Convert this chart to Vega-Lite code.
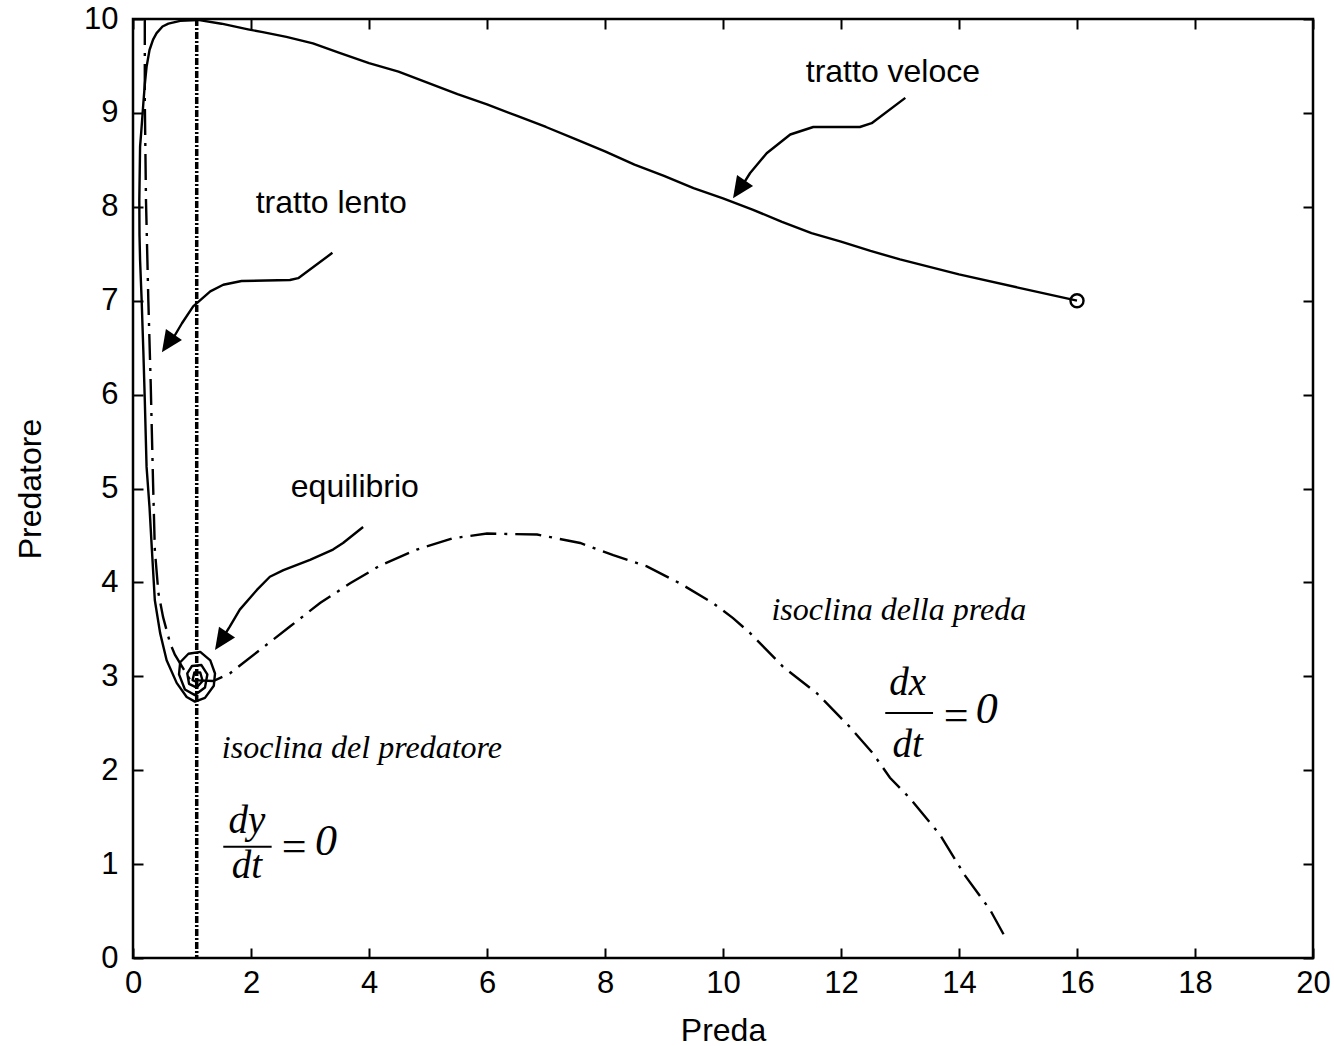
{
  "$schema": "https://vega.github.io/schema/vega-lite/v6.json",
  "width": 1180,
  "height": 939,
  "autosize": {"type": "none"},
  "padding": {"left": 133, "top": 19, "right": 21, "bottom": 88},
  "background": "white",
  "config": {
    "view": {"stroke": "black", "strokeWidth": 2.5},
    "axis": {
      "grid": false,
      "domain": false,
      "ticks": true,
      "tickColor": "black",
      "tickWidth": 2,
      "tickSize": -10,
      "labelFont": "Liberation Sans",
      "labelFontSize": 31,
      "labelColor": "black",
      "titleFont": "Liberation Sans",
      "titleFontSize": 32,
      "titleFontWeight": "normal",
      "titleColor": "black"
    }
  },
  "datasets": {
    "trajectory": [
      {"t": 0, "preda": 16.0, "predatore": 7.0},
      {"t": 1, "preda": 15.0, "predatore": 7.14},
      {"t": 2, "preda": 14.0, "predatore": 7.28},
      {"t": 3, "preda": 13.0, "predatore": 7.44},
      {"t": 4, "preda": 12.5, "predatore": 7.53},
      {"t": 5, "preda": 12.0, "predatore": 7.63},
      {"t": 6, "preda": 11.5, "predatore": 7.72},
      {"t": 7, "preda": 11.0, "predatore": 7.84},
      {"t": 8, "preda": 10.5, "predatore": 7.97},
      {"t": 9, "preda": 10.0, "predatore": 8.09},
      {"t": 10, "preda": 9.5, "predatore": 8.2},
      {"t": 11, "preda": 9.0, "predatore": 8.33},
      {"t": 12, "preda": 8.5, "predatore": 8.45},
      {"t": 13, "preda": 8.0, "predatore": 8.59},
      {"t": 14, "preda": 7.5, "predatore": 8.72},
      {"t": 15, "preda": 7.0, "predatore": 8.85},
      {"t": 16, "preda": 6.5, "predatore": 8.97},
      {"t": 17, "preda": 6.0, "predatore": 9.09},
      {"t": 18, "preda": 5.5, "predatore": 9.2},
      {"t": 19, "preda": 5.0, "predatore": 9.32},
      {"t": 20, "preda": 4.5, "predatore": 9.44},
      {"t": 21, "preda": 4.0, "predatore": 9.53},
      {"t": 22, "preda": 3.5, "predatore": 9.64},
      {"t": 23, "preda": 3.05, "predatore": 9.74},
      {"t": 24, "preda": 2.6, "predatore": 9.81},
      {"t": 25, "preda": 2.2, "predatore": 9.86},
      {"t": 26, "preda": 1.95, "predatore": 9.89},
      {"t": 27, "preda": 1.5, "predatore": 9.95},
      {"t": 28, "preda": 1.1, "predatore": 9.99},
      {"t": 29, "preda": 0.8, "predatore": 9.98},
      {"t": 30, "preda": 0.6, "predatore": 9.95},
      {"t": 31, "preda": 0.5, "predatore": 9.92},
      {"t": 32, "preda": 0.4, "predatore": 9.85},
      {"t": 33, "preda": 0.34, "predatore": 9.78},
      {"t": 34, "preda": 0.28, "predatore": 9.67},
      {"t": 35, "preda": 0.23, "predatore": 9.49},
      {"t": 36, "preda": 0.2, "predatore": 9.3},
      {"t": 37, "preda": 0.175, "predatore": 9.1},
      {"t": 38, "preda": 0.14, "predatore": 8.8},
      {"t": 39, "preda": 0.12, "predatore": 8.64},
      {"t": 40, "preda": 0.107, "predatore": 8.07},
      {"t": 41, "preda": 0.11, "predatore": 7.7},
      {"t": 42, "preda": 0.12, "predatore": 7.43},
      {"t": 43, "preda": 0.147, "predatore": 7.0},
      {"t": 44, "preda": 0.175, "predatore": 6.47},
      {"t": 45, "preda": 0.2, "predatore": 5.94},
      {"t": 46, "preda": 0.23, "predatore": 5.23},
      {"t": 47, "preda": 0.28, "predatore": 4.8},
      {"t": 48, "preda": 0.32, "predatore": 4.35},
      {"t": 49, "preda": 0.37, "predatore": 3.81},
      {"t": 50, "preda": 0.46, "predatore": 3.46},
      {"t": 51, "preda": 0.57, "predatore": 3.17},
      {"t": 52, "preda": 0.74, "predatore": 2.93},
      {"t": 53, "preda": 0.91, "predatore": 2.78},
      {"t": 54, "preda": 1.05, "predatore": 2.73},
      {"t": 55, "preda": 1.22, "predatore": 2.77},
      {"t": 56, "preda": 1.37, "predatore": 2.9},
      {"t": 57, "preda": 1.39, "predatore": 3.03},
      {"t": 58, "preda": 1.31, "predatore": 3.17},
      {"t": 59, "preda": 1.14, "predatore": 3.26},
      {"t": 60, "preda": 0.94, "predatore": 3.24},
      {"t": 61, "preda": 0.8, "predatore": 3.15},
      {"t": 62, "preda": 0.78, "predatore": 3.02},
      {"t": 63, "preda": 0.88, "predatore": 2.86},
      {"t": 64, "preda": 1.05, "predatore": 2.8},
      {"t": 65, "preda": 1.22, "predatore": 2.88},
      {"t": 66, "preda": 1.26, "predatore": 3.02},
      {"t": 67, "preda": 1.16, "predatore": 3.12},
      {"t": 68, "preda": 1.0, "predatore": 3.11},
      {"t": 69, "preda": 0.92, "predatore": 3.03},
      {"t": 70, "preda": 0.95, "predatore": 2.92},
      {"t": 71, "preda": 1.08, "predatore": 2.88},
      {"t": 72, "preda": 1.18, "predatore": 2.95},
      {"t": 73, "preda": 1.14, "predatore": 3.04},
      {"t": 74, "preda": 1.04, "predatore": 3.04},
      {"t": 75, "preda": 1.01, "predatore": 2.96},
      {"t": 76, "preda": 1.08, "predatore": 2.94},
      {"t": 77, "preda": 1.1, "predatore": 2.97}
    ],
    "start": [{"preda": 16.0, "predatore": 7.0}],
    "preyIsocline": [
      {"k": 0, "preda": 0.2, "predatore": 10.0},
      {"k": 1, "preda": 0.2, "predatore": 9.14},
      {"k": 2, "preda": 0.22, "predatore": 8.07},
      {"k": 3, "preda": 0.26, "predatore": 7.0},
      {"k": 4, "preda": 0.3, "predatore": 6.12},
      {"k": 5, "preda": 0.34, "predatore": 5.06},
      {"k": 6, "preda": 0.37, "predatore": 4.35},
      {"k": 7, "preda": 0.43, "predatore": 3.89},
      {"k": 8, "preda": 0.51, "predatore": 3.63},
      {"k": 9, "preda": 0.63, "predatore": 3.35},
      {"k": 10, "preda": 0.71, "predatore": 3.23},
      {"k": 11, "preda": 0.97, "predatore": 2.96},
      {"k": 12, "preda": 1.36, "predatore": 2.95},
      {"k": 13, "preda": 1.64, "predatore": 3.03},
      {"k": 14, "preda": 2.15, "predatore": 3.28},
      {"k": 15, "preda": 2.66, "predatore": 3.53},
      {"k": 16, "preda": 3.17, "predatore": 3.78},
      {"k": 17, "preda": 3.68, "predatore": 3.99},
      {"k": 18, "preda": 4.19, "predatore": 4.18},
      {"k": 19, "preda": 4.81, "predatore": 4.35},
      {"k": 20, "preda": 5.42, "predatore": 4.47},
      {"k": 21, "preda": 6.0, "predatore": 4.52},
      {"k": 22, "preda": 6.85, "predatore": 4.51},
      {"k": 23, "preda": 7.58, "predatore": 4.42},
      {"k": 24, "preda": 8.14, "predatore": 4.29},
      {"k": 25, "preda": 8.71, "predatore": 4.17},
      {"k": 26, "preda": 9.27, "predatore": 3.99},
      {"k": 27, "preda": 9.83, "predatore": 3.78},
      {"k": 28, "preda": 10.17, "predatore": 3.62},
      {"k": 29, "preda": 10.46, "predatore": 3.46},
      {"k": 30, "preda": 11.02, "predatore": 3.1},
      {"k": 31, "preda": 11.59, "predatore": 2.82},
      {"k": 32, "preda": 12.15, "predatore": 2.46},
      {"k": 33, "preda": 12.54, "predatore": 2.18},
      {"k": 34, "preda": 12.83, "predatore": 1.92},
      {"k": 35, "preda": 13.17, "predatore": 1.7},
      {"k": 36, "preda": 13.68, "predatore": 1.31},
      {"k": 37, "preda": 14.1, "predatore": 0.88},
      {"k": 38, "preda": 14.53, "predatore": 0.51},
      {"k": 39, "preda": 14.81, "predatore": 0.19}
    ],
    "predatorIsocline": [{"preda": 1.08}],
    "arrows": [
      {"arrow": "veloce", "k": 0, "preda": 13.09, "predatore": 9.16},
      {"arrow": "veloce", "k": 1, "preda": 12.52, "predatore": 8.89},
      {"arrow": "veloce", "k": 2, "preda": 12.32, "predatore": 8.85},
      {"arrow": "veloce", "k": 3, "preda": 11.53, "predatore": 8.85},
      {"arrow": "veloce", "k": 4, "preda": 11.14, "predatore": 8.77},
      {"arrow": "veloce", "k": 5, "preda": 10.74, "predatore": 8.57},
      {"arrow": "veloce", "k": 6, "preda": 10.46, "predatore": 8.36},
      {"arrow": "veloce", "k": 7, "preda": 10.32, "predatore": 8.22},
      {"arrow": "lento", "k": 0, "preda": 3.38, "predatore": 7.51},
      {"arrow": "lento", "k": 1, "preda": 2.8, "predatore": 7.24},
      {"arrow": "lento", "k": 2, "preda": 2.66, "predatore": 7.22},
      {"arrow": "lento", "k": 3, "preda": 1.84, "predatore": 7.21},
      {"arrow": "lento", "k": 4, "preda": 1.53, "predatore": 7.17},
      {"arrow": "lento", "k": 5, "preda": 1.31, "predatore": 7.1},
      {"arrow": "lento", "k": 6, "preda": 1.02, "predatore": 6.94},
      {"arrow": "lento", "k": 7, "preda": 0.83, "predatore": 6.76},
      {"arrow": "lento", "k": 8, "preda": 0.68, "predatore": 6.6},
      {"arrow": "equilibrio", "k": 0, "preda": 3.9, "predatore": 4.59},
      {"arrow": "equilibrio", "k": 1, "preda": 3.56, "predatore": 4.42},
      {"arrow": "equilibrio", "k": 2, "preda": 3.39, "predatore": 4.35},
      {"arrow": "equilibrio", "k": 3, "preda": 3.0, "predatore": 4.24},
      {"arrow": "equilibrio", "k": 4, "preda": 2.55, "predatore": 4.13},
      {"arrow": "equilibrio", "k": 5, "preda": 2.32, "predatore": 4.06},
      {"arrow": "equilibrio", "k": 6, "preda": 2.1, "predatore": 3.92},
      {"arrow": "equilibrio", "k": 7, "preda": 1.81, "predatore": 3.71},
      {"arrow": "equilibrio", "k": 8, "preda": 1.64, "predatore": 3.53},
      {"arrow": "equilibrio", "k": 9, "preda": 1.56, "predatore": 3.45}
    ],
    "arrowTips": [
      {"arrow": "veloce", "preda": 10.17, "predatore": 8.09},
      {"arrow": "lento", "preda": 0.49, "predatore": 6.45},
      {"arrow": "equilibrio", "preda": 1.39, "predatore": 3.28}
    ],
    "notes": [
      {"label": "tratto veloce", "preda": 12.88, "predatore": 9.33},
      {"label": "tratto lento", "preda": 3.36, "predatore": 7.93},
      {"label": "equilibrio", "preda": 3.76, "predatore": 4.91}
    ],
    "isoNotes": [
      {"label": "isoclina della  preda", "preda": 12.98, "predatore": 3.6},
      {"label": "isoclina del  predatore", "preda": 3.88, "predatore": 2.13}
    ],
    "fracTerms": [
      {"label": "dx", "preda": 13.13, "predatore": 2.8},
      {"label": "dt", "preda": 13.13, "predatore": 2.14},
      {"label": "dy", "preda": 1.93, "predatore": 1.33},
      {"label": "dt", "preda": 1.93, "predatore": 0.85}
    ],
    "fracBars": [
      {"preda": 12.75, "preda2": 13.56, "predatore": 2.61},
      {"preda": 1.53, "preda2": 2.35, "predatore": 1.185}
    ],
    "equals": [
      {"preda": 13.95, "predatore": 2.57},
      {"preda": 2.73, "predatore": 1.17}
    ],
    "zeros": [
      {"preda": 14.47, "predatore": 2.5},
      {"preda": 3.27, "predatore": 1.1}
    ]
  },
  "layer": [
    {
      "data": {"name": "trajectory"},
      "mark": {"type": "line", "color": "black", "strokeWidth": 2.4, "strokeJoin": "round"},
      "encoding": {
        "x": {
          "field": "preda", "type": "quantitative",
          "scale": {"domain": [0, 20], "nice": false, "zero": false},
          "axis": {"orient": "bottom", "values": [0, 2, 4, 6, 8, 10, 12, 14, 16, 18, 20], "title": "Preda", "labelPadding": 20, "titlePadding": 17, "labelFlush": false}
        },
        "y": {
          "field": "predatore", "type": "quantitative",
          "scale": {"domain": [0, 10], "nice": false, "zero": false},
          "axis": {"orient": "left", "values": [0, 1, 2, 3, 4, 5, 6, 7, 8, 9, 10], "title": "Predatore", "labelPadding": 25, "titlePadding": 36, "labelFlush": false}
        },
        "order": {"field": "t", "type": "quantitative"}
      }
    },
    {
      "data": {"name": "preyIsocline"},
      "mark": {"type": "line", "color": "black", "strokeWidth": 2.4, "strokeDash": [26, 8, 3, 8]},
      "encoding": {
        "x": {
          "field": "preda", "type": "quantitative",
          "axis": {"orient": "top", "values": [0, 2, 4, 6, 8, 10, 12, 14, 16, 18, 20], "labels": false, "title": null}
        },
        "y": {
          "field": "predatore", "type": "quantitative",
          "axis": {"orient": "right", "values": [0, 1, 2, 3, 4, 5, 6, 7, 8, 9, 10], "labels": false, "title": null}
        },
        "order": {"field": "k", "type": "quantitative"}
      }
    },
    {
      "data": {"name": "predatorIsocline"},
      "mark": {"type": "rule", "color": "black", "strokeWidth": 3.5, "strokeDash": [7, 2, 2, 2]},
      "encoding": {
        "x": {"field": "preda", "type": "quantitative", "axis": null}
      }
    },
    {
      "data": {"name": "start"},
      "mark": {"type": "point", "shape": "circle", "filled": false, "color": "black", "strokeWidth": 2.4, "size": 170, "opacity": 1},
      "encoding": {
        "x": {"field": "preda", "type": "quantitative", "axis": null},
        "y": {"field": "predatore", "type": "quantitative", "axis": null}
      }
    },
    {
      "data": {"name": "arrows"},
      "mark": {"type": "line", "color": "black", "strokeWidth": 2.4, "strokeJoin": "round"},
      "encoding": {
        "x": {"field": "preda", "type": "quantitative", "axis": null},
        "y": {"field": "predatore", "type": "quantitative", "axis": null},
        "detail": {"field": "arrow"},
        "order": {"field": "k", "type": "quantitative"}
      }
    },
    {
      "data": {"name": "arrowTips"},
      "mark": {"type": "point", "shape": "M0,0L0.45,1L-0.45,1Z", "filled": true, "color": "black", "size": 1850, "angle": 214, "opacity": 1, "strokeWidth": 0},
      "encoding": {
        "x": {"field": "preda", "type": "quantitative", "axis": null},
        "y": {"field": "predatore", "type": "quantitative", "axis": null}
      }
    },
    {
      "data": {"name": "notes"},
      "mark": {"type": "text", "font": "Liberation Sans", "fontSize": 32, "align": "center", "baseline": "alphabetic", "color": "black"},
      "encoding": {
        "x": {"field": "preda", "type": "quantitative", "axis": null},
        "y": {"field": "predatore", "type": "quantitative", "axis": null},
        "text": {"field": "label"}
      }
    },
    {
      "data": {"name": "isoNotes"},
      "mark": {"type": "text", "font": "Liberation Serif", "fontStyle": "italic", "fontSize": 32, "align": "center", "baseline": "alphabetic", "color": "black"},
      "encoding": {
        "x": {"field": "preda", "type": "quantitative", "axis": null},
        "y": {"field": "predatore", "type": "quantitative", "axis": null},
        "text": {"field": "label"}
      }
    },
    {
      "data": {"name": "fracTerms"},
      "mark": {"type": "text", "font": "Liberation Serif", "fontStyle": "italic", "fontSize": 39, "align": "center", "baseline": "alphabetic", "color": "black"},
      "encoding": {
        "x": {"field": "preda", "type": "quantitative", "axis": null},
        "y": {"field": "predatore", "type": "quantitative", "axis": null},
        "text": {"field": "label"}
      }
    },
    {
      "data": {"name": "fracBars"},
      "mark": {"type": "rule", "color": "black", "strokeWidth": 2},
      "encoding": {
        "x": {"field": "preda", "type": "quantitative", "axis": null},
        "x2": {"field": "preda2"},
        "y": {"field": "predatore", "type": "quantitative", "axis": null}
      }
    },
    {
      "data": {"name": "equals"},
      "mark": {"type": "text", "font": "Liberation Serif", "fontSize": 44, "align": "center", "baseline": "middle", "color": "black", "text": "="},
      "encoding": {
        "x": {"field": "preda", "type": "quantitative", "axis": null},
        "y": {"field": "predatore", "type": "quantitative", "axis": null}
      }
    },
    {
      "data": {"name": "zeros"},
      "mark": {"type": "text", "font": "Liberation Serif", "fontStyle": "italic", "fontSize": 44, "align": "center", "baseline": "alphabetic", "color": "black", "text": "0"},
      "encoding": {
        "x": {"field": "preda", "type": "quantitative", "axis": null},
        "y": {"field": "predatore", "type": "quantitative", "axis": null}
      }
    }
  ],
  "resolve": {"axis": {"x": "independent", "y": "independent"}}
}
